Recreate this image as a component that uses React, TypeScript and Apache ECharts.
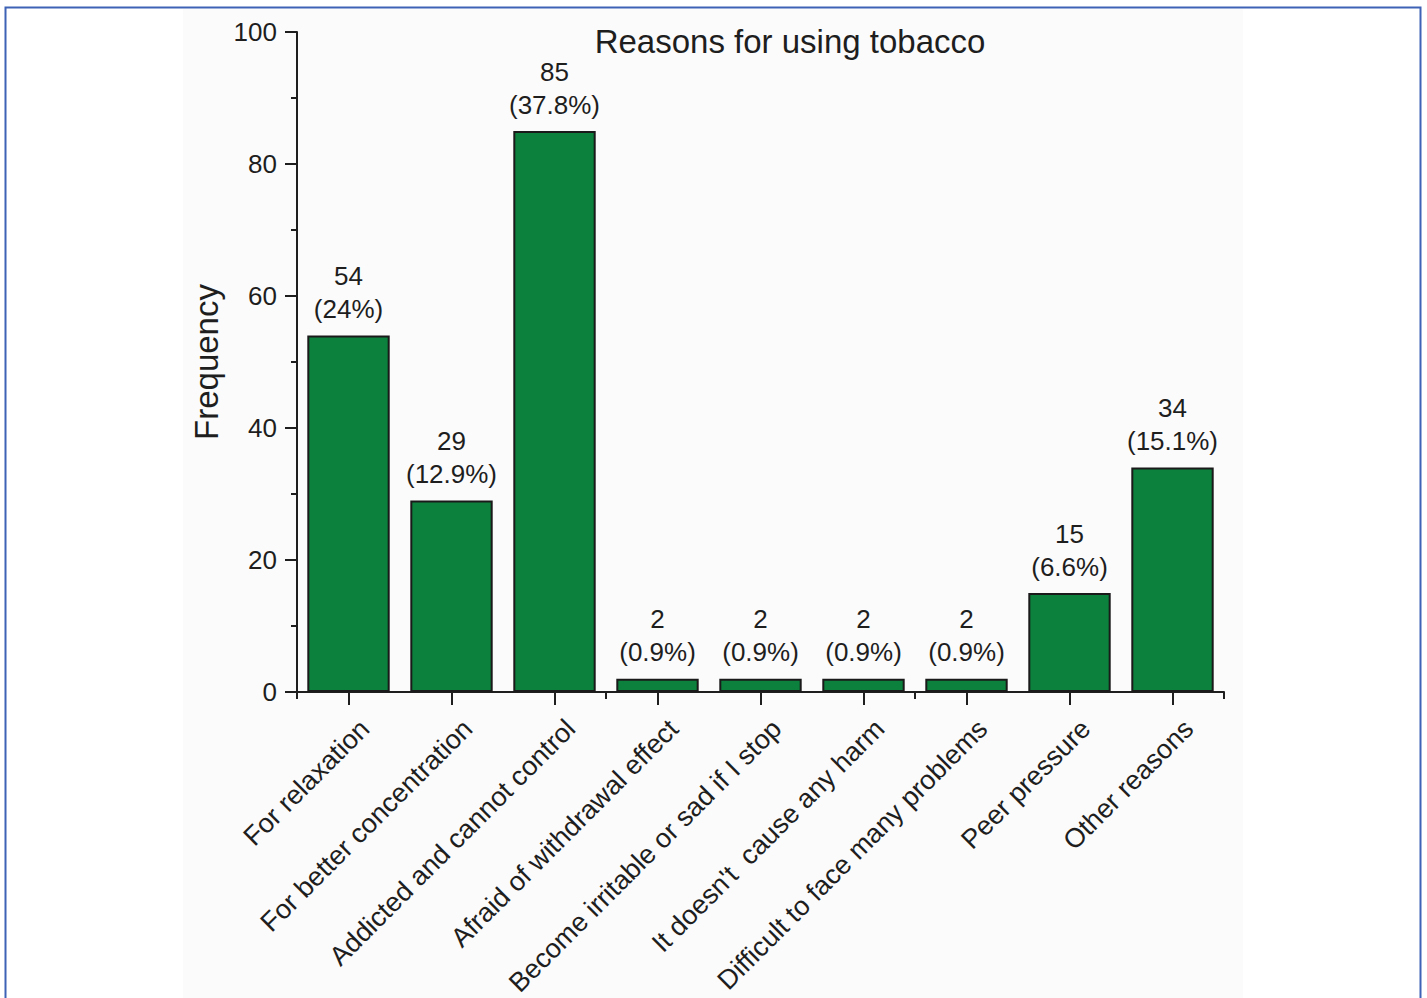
import React, { useEffect, useRef } from "react";
import * as echarts from "echarts";

const categories = [
  "For relaxation",
  "For better concentration",
  "Addicted and cannot control",
  "Afraid of withdrawal effect",
  "Become irritable or sad if I stop",
  "It doesn't  cause any harm",
  "Difficult to face many problems",
  "Peer pressure",
  "Other reasons",
];
const counts = [54, 29, 85, 2, 2, 2, 2, 15, 34];
const percents = ["24%", "12.9%", "37.8%", "0.9%", "0.9%", "0.9%", "0.9%", "6.6%", "15.1%"];
const yTicks = [0, 20, 40, 60, 80, 100];

const FONT = "'Liberation Sans', Arial, Helvetica, sans-serif";
const INK = "#1e1e1e";

export default function App() {
  const ref = useRef<HTMLDivElement>(null);
  useEffect(() => {
    if (!ref.current) return;
    const chart = echarts.init(ref.current, undefined, { renderer: "svg" });
    chart.setOption({
      animation: false,
      backgroundColor: "#ffffff",
      textStyle: { fontFamily: FONT },
      graphic: [
        {
          type: "rect",
          z: -10,
          silent: true,
          shape: { x: 183, y: 9, width: 1060, height: 995 },
          style: { fill: "#fbfbfb" },
        },
        {
          type: "rect",
          z: -5,
          silent: true,
          shape: { x: 5.5, y: 7.5, width: 1415, height: 1000 },
          style: { fill: "none", stroke: "#3d62b6", lineWidth: 2 },
        },
      ],
      title: {
        text: "Reasons for using tobacco",
        left: 785,
        top: 20,
        textAlign: "center",
        textStyle: { fontFamily: FONT, fontSize: 33, fontWeight: "normal", color: INK },
      },
      grid: {
        left: 297,
        right: 203,
        top: 32,
        bottom: 306,
        containLabel: false,
        outerBoundsMode: "none",
      },
      xAxis: [
        {
          type: "category",
          data: categories,
          axisLine: { show: true, lineStyle: { color: INK, width: 2 } },
          axisTick: { show: true, alignWithLabel: true, length: 13, lineStyle: { color: INK, width: 2 } },
          axisLabel: {
            interval: 0,
            rotate: 45,
            margin: 16,
            fontSize: 27,
            color: INK,
            fontFamily: FONT,
            verticalAlign: "top",
            lineHeight: 46,
          },
          splitLine: { show: false },
        },
        {
          type: "category",
          data: categories,
          position: "bottom",
          axisLine: { show: false },
          axisTick: { show: true, length: 7, lineStyle: { color: INK, width: 2 } },
          axisLabel: { show: false },
          splitLine: { show: false },
        },
      ],
      yAxis: {
        type: "value",
        min: 0,
        max: 100,
        interval: 20,
        name: "Frequency",
        nameLocation: "middle",
        nameGap: 70,
        nameTextStyle: { fontFamily: FONT, fontSize: 33, color: INK },
        axisLine: { show: true, lineStyle: { color: INK, width: 2 } },
        axisTick: { show: true, length: 12, lineStyle: { color: INK, width: 2 } },
        minorTick: { show: true, splitNumber: 2, length: 6, lineStyle: { color: INK, width: 2 } },
        axisLabel: {
          margin: 20,
          fontSize: 26,
          color: INK,
          fontFamily: FONT,
          formatter: (v: number) => (yTicks.includes(v) ? String(v) : ""),
        },
        splitLine: { show: false },
      },
      series: [
        {
          type: "bar",
          xAxisIndex: 0,
          data: counts,
          barCategoryGap: "20%",
          itemStyle: { color: "#0c803d", borderColor: "#1a1a1a", borderWidth: 2 },
          label: {
            show: true,
            position: "top",
            distance: 10,
            fontSize: 26,
            lineHeight: 33,
            color: INK,
            fontFamily: FONT,
            formatter: (p: any) => `${counts[p.dataIndex]}\n(${percents[p.dataIndex]})`,
          },
        },
      ],
    });
    return () => chart.dispose();
  }, []);
  return (
    <div
      ref={ref}
      style={{ position: "fixed", left: 0, top: 0, width: 1427, height: 998 }}
    />
  );
}
